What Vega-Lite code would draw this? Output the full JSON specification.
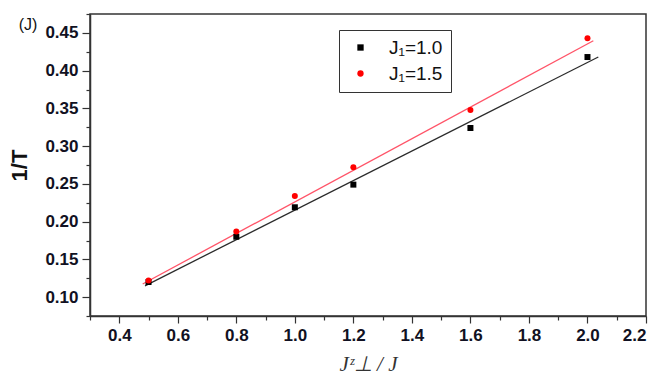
{
  "$schema": "https://vega.github.io/schema/vega-lite/v6.json",
  "width": 556,
  "height": 302,
  "autosize": {"type": "none"},
  "padding": {"left": 90, "top": 14, "right": 18, "bottom": 69},
  "background": "white",
  "config": {
    "view": {"stroke": "#333", "strokeWidth": 1.5},
    "axis": {
      "grid": false,
      "domainColor": "#333",
      "domainWidth": 1.5,
      "tickColor": "#333",
      "tickWidth": 1.2,
      "labelFont": "Liberation Sans",
      "labelFontSize": 17,
      "labelFontWeight": "bold",
      "labelColor": "#111122"
    },
    "legend": {
      "padding": 8,
      "strokeColor": "#333",
      "fillColor": "white",
      "symbolOffset": 4,
      "labelOffset": 19,
      "rowPadding": 6,
      "labelFont": "Liberation Sans",
      "labelFontSize": 19,
      "labelColor": "#111",
      "symbolSize": 40
    }
  },
  "datasets": {
    "points": [
      {"series": "J₁=1.0", "x": 0.5, "y": 0.120},
      {"series": "J₁=1.0", "x": 0.8, "y": 0.180},
      {"series": "J₁=1.0", "x": 1.0, "y": 0.219},
      {"series": "J₁=1.0", "x": 1.2, "y": 0.249},
      {"series": "J₁=1.0", "x": 1.6, "y": 0.324},
      {"series": "J₁=1.0", "x": 2.0, "y": 0.418},
      {"series": "J₁=1.5", "x": 0.5, "y": 0.122},
      {"series": "J₁=1.5", "x": 0.8, "y": 0.187},
      {"series": "J₁=1.5", "x": 1.0, "y": 0.234},
      {"series": "J₁=1.5", "x": 1.2, "y": 0.272},
      {"series": "J₁=1.5", "x": 1.6, "y": 0.348},
      {"series": "J₁=1.5", "x": 2.0, "y": 0.443}
    ],
    "fit10": [
      {"x": 0.488, "y": 0.115},
      {"x": 2.037, "y": 0.418}
    ],
    "fit15": [
      {"x": 0.48, "y": 0.1174},
      {"x": 2.02, "y": 0.4396}
    ],
    "panel": [
      {"label": "(J)", "x": 0.088, "y": 0.4604}
    ]
  },
  "layer": [
    {
      "data": {"name": "fit10"},
      "mark": {"type": "line", "strokeWidth": 1.3, "color": "#2b2b2b"},
      "encoding": {
        "x": {"field": "x", "type": "quantitative", "scale": {"domain": [0.3, 2.2], "nice": false, "zero": false}, "axis": null},
        "y": {"field": "y", "type": "quantitative", "scale": {"domain": [0.075, 0.475], "nice": false, "zero": false}, "axis": null}
      }
    },
    {
      "data": {"name": "fit15"},
      "mark": {"type": "line", "strokeWidth": 1.3, "color": "#ff5468"},
      "encoding": {
        "x": {"field": "x", "type": "quantitative", "axis": null},
        "y": {"field": "y", "type": "quantitative", "axis": null}
      }
    },
    {
      "data": {"name": "panel"},
      "mark": {"type": "text", "font": "Liberation Sans", "fontSize": 16, "color": "#111", "align": "center", "baseline": "middle", "clip": false},
      "encoding": {
        "x": {"field": "x", "type": "quantitative", "axis": null},
        "y": {"field": "y", "type": "quantitative", "axis": null},
        "text": {"field": "label"}
      }
    },
    {
      "data": {"name": "points"},
      "mark": {"type": "point", "filled": true, "opacity": 1, "size": 36},
      "encoding": {
        "x": {
          "field": "x", "type": "quantitative",
          "axis": {
            "orient": "bottom",
            "values": [0.4, 0.6, 0.8, 1.0, 1.2, 1.4, 1.6, 1.8, 2.0, 2.2],
            "format": ".1f",
            "tickSize": 7,
            "labelPadding": 4,
            "title": "Jᶻ⊥ / J",
            "titleFont": "Liberation Serif",
            "titleFontStyle": "italic",
            "titleFontWeight": "normal",
            "titleFontSize": 21,
            "titleColor": "#333",
            "titlePadding": 10
          }
        },
        "y": {
          "field": "y", "type": "quantitative",
          "axis": {
            "orient": "left",
            "values": [0.10, 0.15, 0.20, 0.25, 0.30, 0.35, 0.40, 0.45],
            "format": ".2f",
            "tickSize": 8,
            "labelPadding": 4,
            "title": "1/T",
            "titleFont": "Liberation Sans",
            "titleFontWeight": "bold",
            "titleFontSize": 22,
            "titleColor": "#111",
            "titlePadding": 13
          }
        },
        "color": {
          "field": "series", "type": "nominal",
          "scale": {"domain": ["J₁=1.0", "J₁=1.5"], "range": ["#000000", "#ff0000"]},
          "legend": {"title": null, "orient": "none", "legendX": 249, "legendY": 16}
        },
        "shape": {
          "field": "series", "type": "nominal",
          "scale": {"domain": ["J₁=1.0", "J₁=1.5"], "range": ["square", "circle"]},
          "legend": {"title": null, "orient": "none", "legendX": 249, "legendY": 16}
        }
      }
    },
    {
      "data": {"name": "points"},
      "mark": {"type": "point", "opacity": 0},
      "encoding": {
        "x": {
          "field": "x", "type": "quantitative",
          "axis": {
            "orient": "bottom",
            "values": [0.3, 0.5, 0.7, 0.9, 1.1, 1.3, 1.5, 1.7, 1.9, 2.1],
            "labels": false, "domain": false, "tickSize": 4, "title": null
          }
        },
        "y": {
          "field": "y", "type": "quantitative",
          "axis": {
            "orient": "left",
            "values": [0.075, 0.125, 0.175, 0.225, 0.275, 0.325, 0.375, 0.425, 0.475],
            "labels": false, "domain": false, "tickSize": 4, "title": null
          }
        }
      }
    }
  ],
  "resolve": {"axis": {"x": "independent", "y": "independent"}}
}
